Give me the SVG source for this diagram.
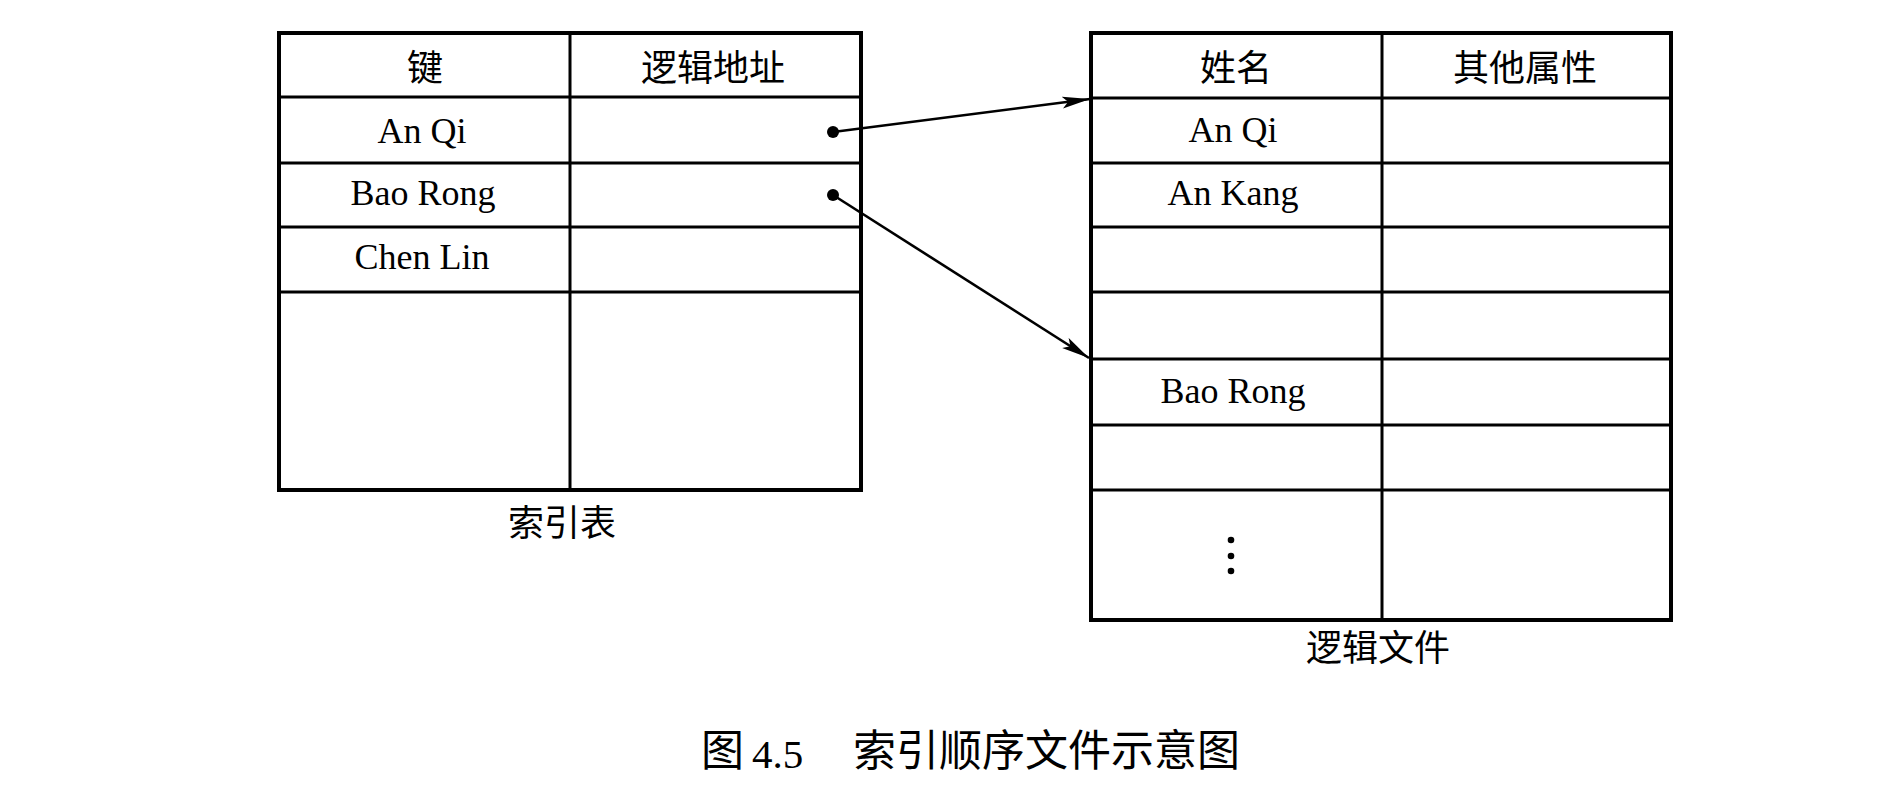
<svg xmlns="http://www.w3.org/2000/svg" width="1894" height="790" viewBox="0 0 1894 790">
<style>
.outer{fill:none;stroke:#000;stroke-width:4}
.inner{stroke:#000;stroke-width:3}
.lat{font-family:"Liberation Serif","Times New Roman",serif;font-size:36px;fill:#000;text-anchor:middle}
.cjk{font-family:"Noto Sans CJK SC","Noto Sans CJK JP",sans-serif;font-size:36px;fill:#000;text-anchor:middle}
.cap{font-family:"Noto Sans CJK SC",sans-serif;font-size:43px;fill:#000}
.num{font-family:"Liberation Serif","Times New Roman",serif;font-size:41px;fill:#000}
.conn{stroke:#000;stroke-width:2.6;fill:none}
</style>
<defs>
<marker id="arr" markerUnits="userSpaceOnUse" markerWidth="30" markerHeight="14" refX="28" refY="6" orient="auto">
<path d="M0,0 L28,6 L0,12 L6,6 Z" fill="#000"/>
</marker>
</defs>
<rect width="1894" height="790" fill="#fff"/>
<g id="index-table">
<rect class="outer" x="279" y="33" width="582" height="457"/>
<line class="inner" x1="570" y1="33" x2="570" y2="490"/>
<line class="inner" x1="279" y1="97" x2="861" y2="97"/>
<line class="inner" x1="279" y1="163" x2="861" y2="163"/>
<line class="inner" x1="279" y1="227" x2="861" y2="227"/>
<line class="inner" x1="279" y1="292" x2="861" y2="292"/>
<text class="cjk" x="425" y="81">键</text>
<text class="cjk" x="713" y="81">逻辑地址</text>
<text class="lat" x="422" y="143">An Qi</text>
<text class="lat" x="423" y="205">Bao Rong</text>
<text class="lat" x="422" y="269">Chen Lin</text>
<circle cx="833" cy="132" r="6" fill="#000"/>
<circle cx="833" cy="195" r="6" fill="#000"/>
<text class="cjk" x="562" y="536">索引表</text>
</g>
<g id="logical-file">
<rect class="outer" x="1091" y="33" width="580" height="587"/>
<line class="inner" x1="1382" y1="33" x2="1382" y2="620"/>
<line class="inner" x1="1091" y1="98" x2="1671" y2="98"/>
<line class="inner" x1="1091" y1="163" x2="1671" y2="163"/>
<line class="inner" x1="1091" y1="227" x2="1671" y2="227"/>
<line class="inner" x1="1091" y1="292" x2="1671" y2="292"/>
<line class="inner" x1="1091" y1="359" x2="1671" y2="359"/>
<line class="inner" x1="1091" y1="425" x2="1671" y2="425"/>
<line class="inner" x1="1091" y1="490" x2="1671" y2="490"/>
<text class="cjk" x="1236" y="81">姓名</text>
<text class="cjk" x="1525" y="81">其他属性</text>
<text class="lat" x="1233" y="142">An Qi</text>
<text class="lat" x="1233" y="205">An Kang</text>
<text class="lat" x="1233" y="403">Bao Rong</text>
<circle cx="1231" cy="540" r="3.3" fill="#000"/>
<circle cx="1231" cy="556" r="3.3" fill="#000"/>
<circle cx="1231" cy="571" r="3.3" fill="#000"/>
<text class="cjk" x="1378" y="661">逻辑文件</text>
</g>
<g id="connectors">
<line class="conn" x1="833" y1="132" x2="1090" y2="99" marker-end="url(#arr)"/>
<line class="conn" x1="833" y1="195" x2="1089" y2="358" marker-end="url(#arr)"/>
</g>
<g id="caption">
<text class="cap" x="701" y="766">图</text>
<text class="num" x="752" y="768">4.5</text>
<text class="cap" x="853" y="766">索引顺序文件示意图</text>
</g>
</svg>
